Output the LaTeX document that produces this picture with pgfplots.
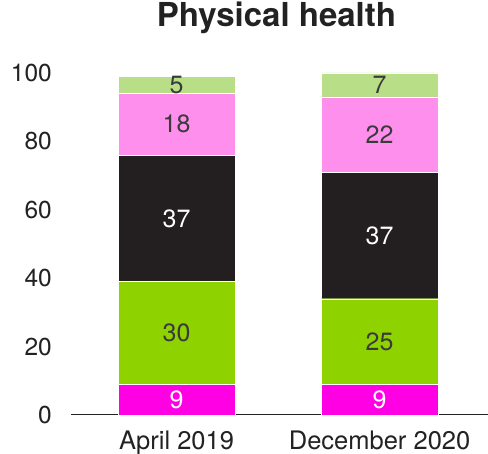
\documentclass[border=0pt]{standalone}
\usepackage{pgfplots}
\pgfplotsset{compat=1.18}
\usepackage{pgfplotstable}
\usepackage{fontspec}
\setmainfont{TeX Gyre Heros}
\definecolor{cMag}{HTML}{FF00E4}
\definecolor{cGreen}{HTML}{8ED300}
\definecolor{cBlack}{HTML}{231F20}
\definecolor{cPink}{HTML}{FF8FEC}
\definecolor{cLight}{HTML}{B8DE87}
\definecolor{cTxt}{HTML}{3A3A3A}
\definecolor{cTick}{HTML}{222222}
\pgfplotstableread{
x v
0 9
1 9
}\sA
\pgfplotstableread{
x v
0 30
1 25
}\sB
\pgfplotstableread{
x v
0 37
1 37
}\sC
\pgfplotstableread{
x v
0 18
1 22
}\sD
\pgfplotstableread{
x v
0 5
1 7
}\sE
\begin{document}
\begin{tikzpicture}
\begin{axis}[
  at={(0,0)}, anchor=south west,
  scale only axis, width=417pt, height=342pt,
  ybar stacked, bar width=0.576,
  xmin=-0.52, xmax=1.534, ymin=0, ymax=100,
  axis lines=left,
  x axis line style={-, draw=cTick, line width=1pt},
  y axis line style={draw=none},
  major tick length=0pt,
  xtick={0,1}, xticklabels={April 2019, December 2020},
  ytick={0,20,40,60,80,100},
  /pgf/number format/assume math mode=true,
  tick label style={font=\fontsize{24.5}{28}\selectfont, text=cTick},
  yticklabel style={inner sep=0pt, xshift=-19pt},
  xticklabel style={inner sep=0pt, anchor=base, yshift=-35pt, font=\fontsize{25.5}{28}\selectfont},
  title={\bfseries Physical health},
  title style={at={(0.5,1)}, anchor=base, yshift=40pt, xshift=-3pt,
    font=\fontsize{33}{36}\selectfont, text=cTick},
  point meta=explicit symbolic,
  nodes near coords,
  every node near coord/.append style={anchor=center, inner sep=0pt,
    font=\fontsize{25}{28}\selectfont, text=cTxt},
  clip=false,
]
\addplot[fill=cMag, draw=white, line width=0.4pt,
  every node near coord/.append style={text=white}] table[x=x,y=v,meta=v] {\sA};
\addplot[fill=cGreen, draw=white, line width=0.4pt] table[x=x,y=v,meta=v] {\sB};
\addplot[fill=cBlack, draw=white, line width=0.4pt,
  every node near coord/.append style={text=white}] table[x=x,y=v,meta=v] {\sC};
\addplot[fill=cPink, draw=white, line width=0.4pt] table[x=x,y=v,meta=v] {\sD};
\addplot[fill=cLight, draw=white, line width=0.4pt] table[x=x,y=v,meta=v] {\sE};
\end{axis}
\pgfresetboundingbox
\path[use as bounding box] (-71pt,-39pt) rectangle (417pt,415pt);
\end{tikzpicture}
\end{document}
